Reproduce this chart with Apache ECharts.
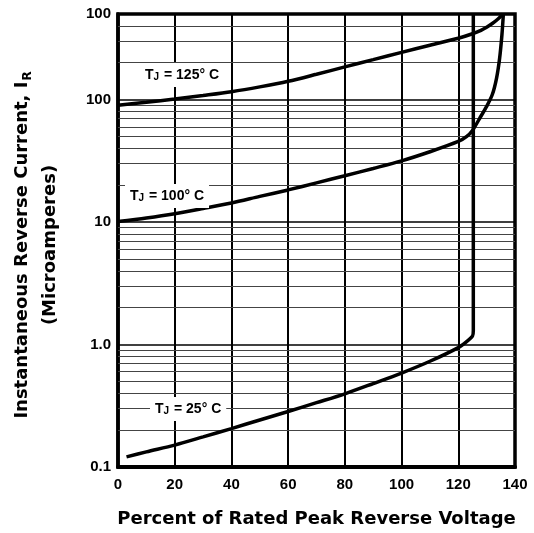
<!DOCTYPE html>
<html>
<head>
<meta charset="utf-8">
<script src="https://cdn.jsdelivr.net/npm/echarts@6/dist/echarts.min.js"></script>
<style>
  html, body { margin: 0; padding: 0; background: #fff; }
  #chart { width: 534px; height: 533px; }
</style>
</head>
<body>
<div id="chart"></div>
<script>
// (x = % of rated voltage, y = uA)
var tj125X = [0, 10, 20, 30, 40, 50, 60, 70, 80, 90, 100, 110, 120, 125, 128, 130, 132, 134, 135.8];
var tj125Y = [90, 95, 101, 108, 116, 127, 141, 161, 185, 212, 243, 278, 317, 345, 368, 390, 418, 455, 500];

var tj100X = [0, 10, 20, 30, 40, 50, 60, 70, 80, 90, 100, 110, 120, 123, 125, 127.5, 130, 132, 133.5, 134.6, 135.4, 135.9];
var tj100Y = [10.1, 10.8, 11.7, 12.9, 14.3, 16.2, 18.3, 20.9, 23.9, 27.4, 31.6, 37.5, 45.5, 50, 56, 70, 88, 110, 150, 220, 340, 500];

var tj25X = [3, 10, 20, 30, 40, 50, 60, 70, 80, 90, 100, 110, 120, 123, 125, 125.3, 125.3];
var tj25Y = [0.121, 0.133, 0.151, 0.176, 0.206, 0.242, 0.284, 0.335, 0.396, 0.48, 0.585, 0.73, 0.944, 1.06, 1.17, 1.3, 500];

var xTicks = [0, 20, 40, 60, 80, 100, 120, 140];
var yTickValues = [0.1, 1, 10, 100, 500];
var yTickLabels = ['0.1', '1.0', '10', '100', '100'];
var minorGrid = [0.2, 0.3, 0.4, 0.5, 0.6, 0.7, 0.8, 0.9,
                 2, 3, 4, 5, 6, 7, 8, 9,
                 20, 30, 40, 50, 60, 70, 80, 90,
                 200, 300, 400];

var FONT = '"Liberation Sans", Arial, sans-serif';
var TITLE_FONT = '"DejaVu Sans", sans-serif';

function pairs(xs, ys) {
  return xs.map(function (x, i) { return [x, ys[i]]; });
}

function yLabel(v) {
  var best = 0;
  for (var i = 1; i < yTickValues.length; i++) {
    if (Math.abs(Math.log(v / yTickValues[i])) < Math.abs(Math.log(v / yTickValues[best]))) best = i;
  }
  return yTickLabels[best];
}

function curve(name, data) {
  return {
    name: name,
    type: 'line',
    data: data,
    showSymbol: false,
    smooth: 0.3,
    z: 5,
    lineStyle: { color: '#000', width: 3.5 },
    silent: true
  };
}

function tjLabel(x, y, temp) {
  return {
    type: 'text',
    x: x,
    y: y,
    z: 10,
    style: {
      text: '{a|T}{s|J}{a| = ' + temp + '° C}',
      verticalAlign: 'middle',
      backgroundColor: '#fff',
      padding: [5, 5, 5, 5],
      rich: {
        a: { fontFamily: FONT, fontWeight: 'bold', fontSize: 14, color: '#000' },
        s: { fontFamily: FONT, fontWeight: 'bold', fontSize: 10, color: '#000', verticalAlign: 'bottom', padding: [3, 1, 0, 0] }
      }
    }
  };
}

var chart = echarts.init(document.getElementById('chart'));

chart.setOption({
  animation: false,
  backgroundColor: '#fff',
  grid: {
    left: 118, right: 19, top: 14, bottom: 61,
    show: true, borderColor: '#000', borderWidth: 3.5
  },
  xAxis: {
    type: 'value',
    min: 0, max: 140, interval: 20,
    name: 'Percent of Rated Peak Reverse Voltage',
    nameLocation: 'middle',
    nameGap: 43,
    nameTextStyle: { fontFamily: TITLE_FONT, fontWeight: 'bold', fontSize: 18, color: '#000' },
    axisLine: { lineStyle: { color: '#000', width: 4 } },
    axisTick: { show: false },
    axisLabel: {
      margin: 10,
      fontFamily: FONT, fontWeight: 'bold', fontSize: 15, color: '#000',
      formatter: function (v) { return xTicks.indexOf(v) >= 0 ? String(v) : ''; }
    },
    splitLine: { show: true, lineStyle: { color: '#000', width: 2 } }
  },
  yAxis: {
    type: 'log',
    logBase: 10,
    min: 0.1, max: 500,
    axisLine: { lineStyle: { color: '#000', width: 3.5 } },
    axisTick: { show: false },
    axisLabel: {
      margin: 7,
      fontFamily: FONT, fontWeight: 'bold', fontSize: 15, color: '#000',
      formatter: yLabel
    },
    splitLine: { show: true, lineStyle: { color: '#000', width: 1.5 } }
  },
  series: [
    {
      type: 'line',
      data: [],
      z: 1,
      silent: true,
      markLine: {
        silent: true,
        symbol: 'none',
        animation: false,
        label: { show: false },
        lineStyle: { color: '#444', width: 1, type: 'solid' },
        data: minorGrid.map(function (v) { return { yAxis: v }; })
      }
    },
    curve('TJ = 125° C', pairs(tj125X, tj125Y)),
    curve('TJ = 100° C', pairs(tj100X, tj100Y)),
    curve('TJ = 25° C', pairs(tj25X, tj25Y))
  ],
  graphic: [
    tjLabel(140, 75, 125),
    tjLabel(125, 196, 100),
    tjLabel(150, 409, 25),
    {
      type: 'text',
      x: 36,
      y: 245,
      rotation: Math.PI / 2,
      style: {
        text: '{a|Instantaneous Reverse Current, I}{s|R}\n{a|(Microamperes)}',
        align: 'center',
        verticalAlign: 'middle',
        rich: {
          a: { fontFamily: TITLE_FONT, fontWeight: 'bold', fontSize: 18, color: '#000', lineHeight: 28 },
          s: { fontFamily: TITLE_FONT, fontWeight: 'bold', fontSize: 12, color: '#000', lineHeight: 28, verticalAlign: 'bottom', padding: [0, 0, 2, 1] }
        }
      }
    }
  ]
});
</script>
</body>
</html>
